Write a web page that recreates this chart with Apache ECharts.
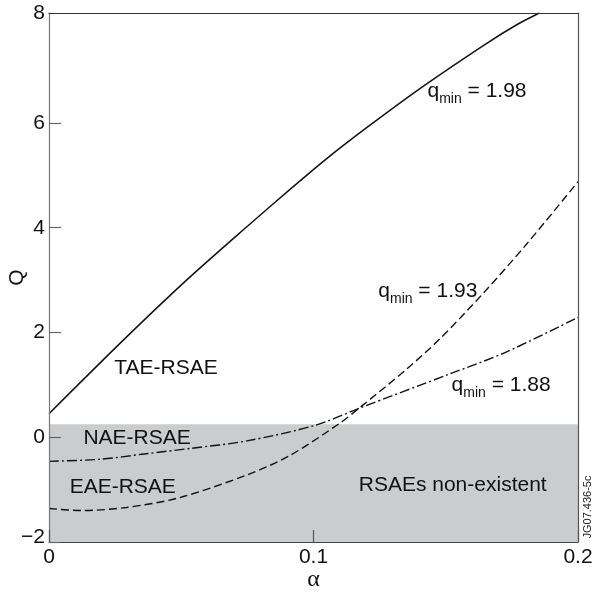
<!DOCTYPE html>
<html>
<head>
<meta charset="utf-8">
<script src="https://cdn.jsdelivr.net/npm/echarts@6/dist/echarts.min.js"></script>
<style>
  html, body { margin: 0; padding: 0; background: #fff; }
  #chart { width: 594px; height: 599px; }
</style>
</head>
<body>
<div id="chart"></div>
<script>
// Q(alpha) for the three q_min values
const alphaSolid = [0, 0.028, 0.052, 0.0748, 0.092, 0.105, 0.1201, 0.1409, 0.1655, 0.177, 0.1854];
const qSolid     = [0.45, 1.85, 3.0, 4.02, 4.77, 5.32, 5.91, 6.68, 7.52, 7.88, 8.1];

const alphaDash = [0, 0.0124, 0.0293, 0.0488, 0.0748, 0.091, 0.110, 0.1176, 0.1352, 0.1478, 0.1642, 0.1806, 0.2];
const qDash     = [-1.36, -1.40, -1.34, -1.16, -0.72, -0.35, 0.27, 0.57, 1.30, 1.88, 2.75, 3.69, 4.88];

const alphaDashDot = [0, 0.0195, 0.0358, 0.054, 0.0748, 0.1008, 0.1176, 0.1516, 0.173, 0.2];
const qDashDot     = [-0.46, -0.42, -0.32, -0.21, -0.07, 0.23, 0.56, 1.21, 1.63, 2.29];

// region where no RSAEs exist
const shadeQ = [-2, 0.25];

// axis ticks
const xTicks = [0, 0.1, 0.2];
const yTicks = [-2, 0, 2, 4, 6, 8];

// annotations: text, anchor alpha, anchor Q
const noteText  = ['qmin|1.98', 'qmin|1.93', 'qmin|1.88', 'TAE-RSAE', 'NAE-RSAE', 'EAE-RSAE', 'RSAEs non-existent'];
const noteAlpha = [0.1431, 0.1245, 0.1522, 0.0247, 0.013, 0.0078, 0.1171];
const noteQ     = [6.61, 2.79, 1.0, 1.32, -0.02, -0.96, -0.92];

const FONT = 'Liberation Sans, Arial, Helvetica, sans-serif';
const INK = '#111';

const pairs = (xs, ys) => xs.map((x, i) => [x, ys[i]]);

const noteData = noteText.map((t, i) => {
  const isQ = t.startsWith('qmin|');
  return {
    value: [noteAlpha[i], noteQ[i]],
    label: {
      formatter: isQ ? '{q|q}{s|min}{t| = ' + t.split('|')[1] + '}' : t
    }
  };
});

const chart = echarts.init(document.getElementById('chart'), null, { renderer: 'canvas' });

const lineBase = {
  type: 'line',
  showSymbol: false,
  smooth: 0.3,
  silent: true,
  z: 3
};

chart.setOption({
  animation: false,
  backgroundColor: '#fff',
  grid: { left: 49, right: 16, top: 13, bottom: 57, containLabel: false, outerBoundsMode: 'none' },
  xAxis: [
    {
      type: 'value', min: xTicks[0], max: xTicks[xTicks.length - 1], interval: 0.1,
      position: 'bottom', z: 5,
      name: 'α', nameLocation: 'middle', nameGap: 26, nameMoveOverlap: false,
      nameTextStyle: { fontFamily: 'Liberation Serif, DejaVu Serif, serif', fontSize: 24, color: INK },
      axisLine: { show: true, onZero: false, lineStyle: { color: '#444', width: 1.2 } },
      axisTick: { show: true, inside: true, length: 12, lineStyle: { color: '#555', width: 1.2 } },
      axisLabel: { fontFamily: FONT, fontSize: 21, color: INK, margin: 5 },
      splitLine: { show: false }
    },
    {
      type: 'value', min: xTicks[0], max: xTicks[xTicks.length - 1], position: 'top', z: 5,
      axisLine: { show: true, onZero: false, lineStyle: { color: '#333', width: 1.2 } },
      axisTick: { show: false }, axisLabel: { show: false }, splitLine: { show: false }
    }
  ],
  yAxis: [
    {
      type: 'value', min: yTicks[0], max: 8.1, interval: 2,
      position: 'left', z: 5,
      name: 'Q', nameLocation: 'middle', nameGap: 21, nameMoveOverlap: false,
      nameTextStyle: { fontFamily: FONT, fontSize: 21, color: INK },
      axisLine: { show: true, onZero: false, lineStyle: { color: '#777', width: 1.2 } },
      axisTick: {
        show: true, inside: true, length: 12, lineStyle: { color: '#666', width: 1.2 },
        customValues: yTicks.slice(0, -1)
      },
      axisLabel: {
        fontFamily: FONT, fontSize: 21, color: INK, margin: 4,
        customValues: yTicks,
        formatter: v => {
          const s = String(v).replace('-', '\u2212');
          // end labels sit slightly raised against the frame
          return (v === yTicks[0] || v === yTicks[yTicks.length - 1]) ? '{e|' + s + '}' : s;
        },
        rich: { e: { fontFamily: FONT, fontSize: 21, color: INK, padding: [0, 0, 10, 0] } }
      },
      splitLine: { show: false }
    },
    {
      type: 'value', min: yTicks[0], max: 8.1, position: 'right', z: 5,
      axisLine: { show: true, onZero: false, lineStyle: { color: '#555', width: 1.2 } },
      axisTick: { show: false }, axisLabel: { show: false }, splitLine: { show: false }
    }
  ],
  series: [
    {
      type: 'line', data: [], silent: true, z: 1,
      markArea: {
        silent: true,
        itemStyle: { color: '#cbcccd' },
        data: [[{ xAxis: xTicks[0], yAxis: shadeQ[0] }, { xAxis: xTicks[2], yAxis: shadeQ[1] }]]
      }
    },
    Object.assign({}, lineBase, {
      name: 'qmin 1.98', data: pairs(alphaSolid, qSolid),
      lineStyle: { color: '#111', width: 1.5, type: 'solid' }
    }),
    Object.assign({}, lineBase, {
      name: 'qmin 1.93', data: pairs(alphaDash, qDash),
      lineStyle: { color: '#111', width: 1.4, type: [8, 4] }
    }),
    Object.assign({}, lineBase, {
      name: 'qmin 1.88', data: pairs(alphaDashDot, qDashDot),
      lineStyle: { color: '#111', width: 1.4, type: [10, 3, 2, 3] }
    }),
    {
      type: 'scatter', silent: true, symbolSize: 0, z: 4,
      itemStyle: { opacity: 1 },
      data: noteData,
      label: {
        show: true, position: 'right', distance: 0, opacity: 1,
        fontFamily: FONT, fontSize: 21, color: INK,
        rich: {
          q: { fontFamily: FONT, fontSize: 21, color: INK, lineHeight: 26 },
          s: { fontFamily: FONT, fontSize: 14, color: INK, lineHeight: 26, padding: [16, 0, 0, 0] },
          t: { fontFamily: FONT, fontSize: 21, color: INK, lineHeight: 26 }
        }
      }
    }
  ],
  graphic: [
    {
      type: 'text', x: 593, y: 507, rotation: Math.PI / 2,
      style: {
        text: 'JG07.436-5c', fontFamily: FONT, fontSize: 11, fill: '#222',
        align: 'center', verticalAlign: 'bottom'
      }
    }
  ]
});
</script>
</body>
</html>
